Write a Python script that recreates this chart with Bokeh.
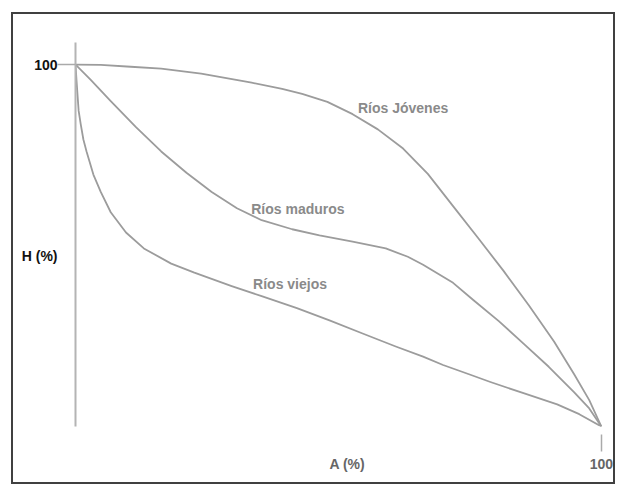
from bokeh.plotting import figure
from bokeh.models import Range1d, FixedTicker
from bokeh.core.properties import value
from bokeh.embed import file_html
from bokeh.resources import INLINE

# Hypsometric curves: A (%) = relative area, H (%) = relative height
jovenes_a = [0, 4.8, 10.5, 16.3, 23.9, 33.5, 39.3, 43.1, 47.9, 52.7, 57.5, 62.3, 67.0, 71.8,
             76.6, 81.4, 86.2, 91.0, 94.8, 97.7, 100]
jovenes_h = [100, 99.9, 99.4, 98.9, 97.5, 95.0, 93.3, 91.9, 89.7, 86.3, 82.1, 76.8, 69.8, 60.9,
             52.0, 43.0, 33.5, 23.5, 14.5, 7.3, 0]

maduros_a = [0, 2.9, 6.7, 11.5, 16.3, 21.1, 25.9, 30.7, 35.4, 41.2, 46.4, 52.7, 59.0, 63.2,
             66.1, 71.8, 75.7, 80.5, 85.2, 90.0, 94.8, 97.7, 100]
maduros_h = [100, 95.8, 89.9, 82.7, 76.0, 70.1, 64.8, 60.3, 57.0, 54.5, 52.8, 51.1, 49.2, 46.9,
             44.7, 39.7, 34.9, 29.1, 22.9, 16.5, 9.5, 5.0, 0]

viejos_a = [0, 0.2, 0.4, 0.6, 1.0, 1.5, 2.1, 3.4, 4.8, 6.7, 9.6, 13.0, 18.2, 22.6, 29.7, 35.4,
            42.1, 48.3, 54.6, 60.9, 66.1, 69.9, 74.7, 78.9, 85.2, 91.6, 95.8, 100]
viejos_h = [100, 95.5, 91.3, 87.2, 83.5, 79.3, 76.0, 69.6, 64.8, 59.2, 53.6, 49.2, 45.0, 42.5,
            38.8, 36.0, 32.7, 29.3, 25.7, 22.1, 19.3, 17.0, 14.5, 12.3, 9.2, 6.1, 3.4, 0]

curve_names = ["Ríos Jóvenes", "Ríos maduros", "Ríos viejos"]
x_ticks = [100]
y_ticks = [100]
x_title = "A (%)"
y_title = "H (%)"

LINE = "#9c9c9c"
FONT = "Liberation Sans"

# axis titles sit in the tick-label column, as in the original drawing
x_title_at = 51.7
y_title_at = 47.2

p = figure(width=604, height=472, output_backend="svg", toolbar_location=None,
           x_range=Range1d(0, 102.5), y_range=Range1d(0, 106.1),
           min_border_left=62, min_border_right=3, min_border_top=28, min_border_bottom=60)
p.styles = {"border": "2px solid #404040", "margin-left": "11px", "margin-top": "12px"}
p.xgrid.visible = False
p.ygrid.visible = False
p.outline_line_color = None
p.background_fill_color = "white"
p.border_fill_color = "white"

ya = p.yaxis[0]
ya.ticker = FixedTicker(ticks=[y_title_at] + y_ticks, minor_ticks=y_ticks)
ya.major_label_overrides = {y_title_at: y_title, **{t: str(t) for t in y_ticks}}
ya.axis_line_color = "#b4b4b4"
ya.axis_line_width = 2
ya.major_tick_line_color = None
ya.major_tick_in = 0
ya.major_tick_out = 0
ya.minor_tick_in = 0
ya.minor_tick_out = 18
ya.minor_tick_line_color = "#aaaaaa"
ya.minor_tick_line_width = 1.5
ya.major_label_standoff = 0
ya.major_label_text_font = FONT
ya.major_label_text_font_style = "bold"
ya.major_label_text_font_size = "14px"
ya.major_label_text_color = "#111111"

xa = p.xaxis[0]
xa.ticker = FixedTicker(ticks=[x_title_at] + x_ticks, minor_ticks=x_ticks)
xa.major_label_overrides = {x_title_at: x_title, **{t: str(t) for t in x_ticks}}
xa.axis_line_color = None
xa.major_tick_line_color = None
xa.major_tick_in = 0
xa.major_tick_out = 0
xa.minor_tick_in = -8
xa.minor_tick_out = 25
xa.minor_tick_line_color = "#aaaaaa"
xa.minor_tick_line_width = 1.5
xa.major_label_standoff = 4
xa.major_label_text_font = FONT
xa.major_label_text_font_style = "bold"
xa.major_label_text_font_size = "14px"
xa.major_label_text_color = "#666666"

for a, h in [(jovenes_a, jovenes_h), (maduros_a, maduros_h), (viejos_a, viejos_h)]:
    p.line(a, h, line_color=LINE, line_width=1.8, line_join="round")

label_x = [62.3, 42.3, 40.8]
label_y = [88.0, 60.1, 39.4]
p.text(x=label_x, y=label_y, text=curve_names, text_align="center", text_baseline="middle",
       text_font=value(FONT), text_font_style="bold", text_font_size="14px", text_color="#8a8a8a")

open("out.html", "w").write(file_html(p, INLINE))
